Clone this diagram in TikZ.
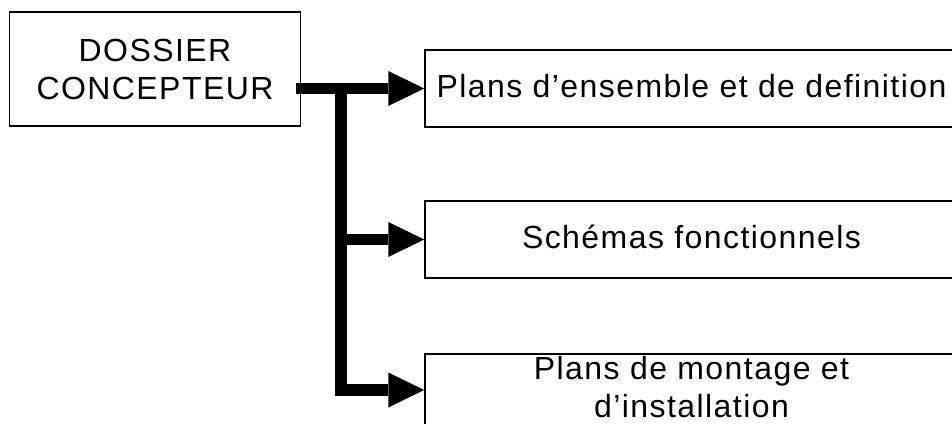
\documentclass[tikz,border=0pt]{standalone}
\usepackage{fontspec}
\setmainfont{Liberation Sans}[LetterSpace=4.5]
\usetikzlibrary{arrows.meta}

\tikzset{
	box/.style={draw, line width=1.5pt, align=center,
		font=\fontsize{32}{38}\selectfont},
	doc/.style={box, minimum width=533pt, minimum height=77pt,
		text height=24pt, text depth=6pt},
	flow/.style={line width=11.5pt,
		-{Triangle[length=36pt, width=35pt, line width=0pt]}}
}

\begin{document}
\begin{tikzpicture}[x=1pt, y=-1pt]
	\clip (0,0) rectangle (952,423);

	\node[box, minimum width=291pt, minimum height=114pt] (dossier) at (155,69) {DOSSIER\\CONCEPTEUR};

	\node[doc] (plans) at (691.5,88.5) {Plans d’ensemble et de definition};
	\node[doc] (schemas) at (691.5,239.5) {Schémas fonctionnels};
	\node[doc, anchor=north, inner ysep=0pt, text height=64pt, text depth=80pt] (montage) at (691.5,353) {Plans de montage et\\d’installation};

	\coordinate (trunk) at (341,88.5);
	\coordinate (low) at (341,390);

		\draw[flow] ([xshift=-5pt]dossier.east |- plans.west) -- (plans.west);
		\draw[flow] (trunk |- schemas.west) -- (schemas.west);
		\draw[flow] (trunk) |- (montage.west |- low);

\end{tikzpicture}
\end{document}
